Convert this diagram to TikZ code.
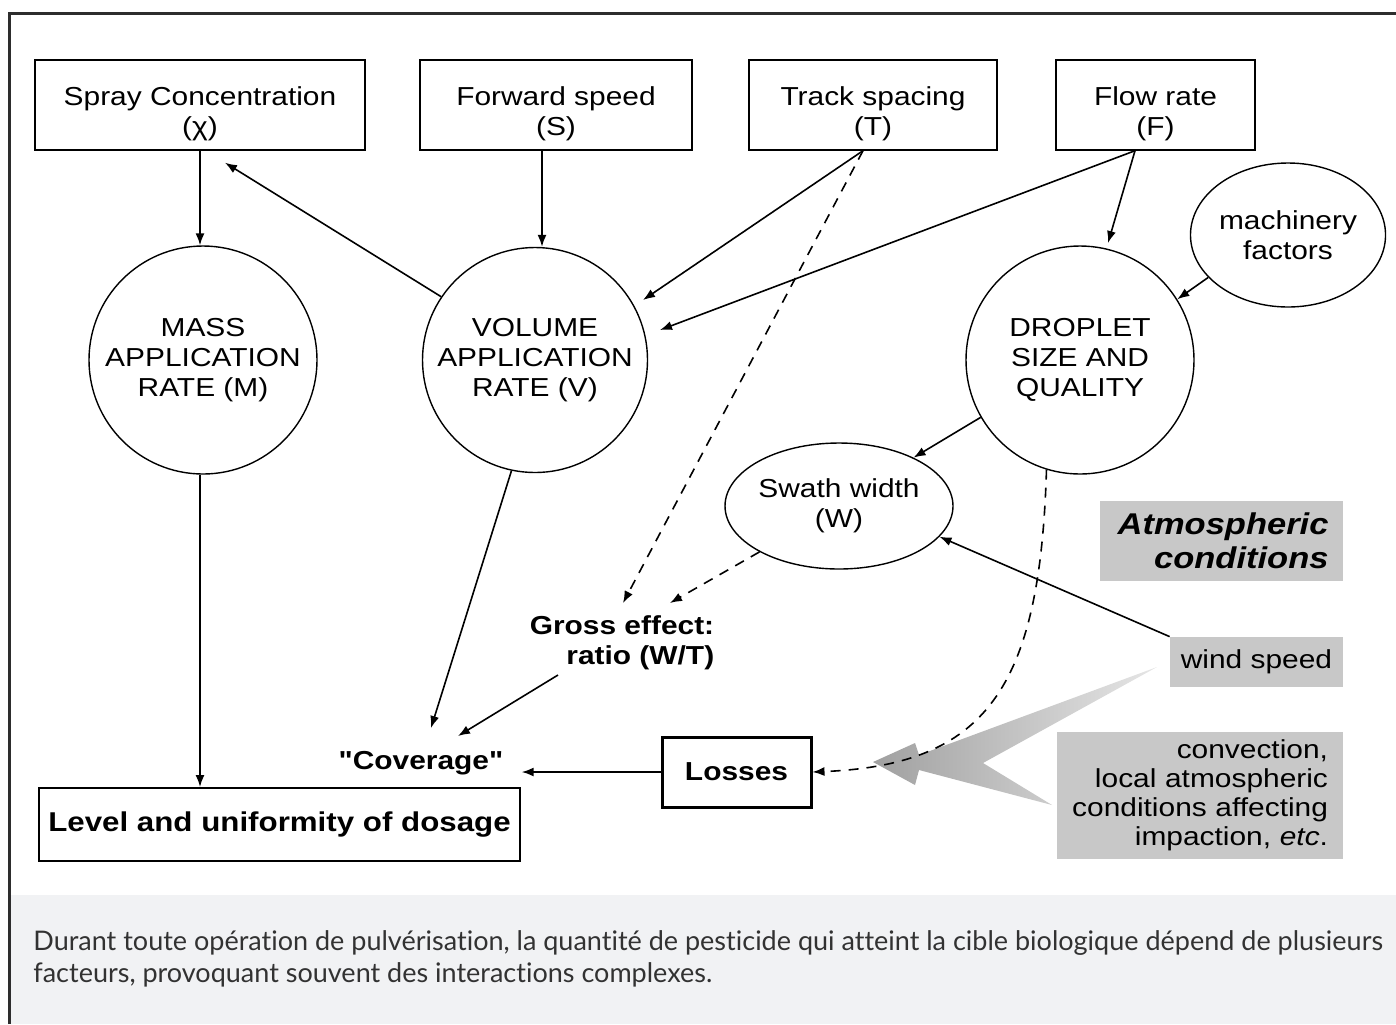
\documentclass[tikz,border=0pt]{standalone}
\usepackage{fontspec}
\newfontfamily\dfont{Liberation Sans}[FakeStretch=1.15]
\newfontfamily\cfont{Lato}[Ligatures={NoCommon}]
\usetikzlibrary{shapes.geometric,arrows.meta,calc}
\definecolor{boxgray}{RGB}{200,200,200}
\definecolor{capgray}{RGB}{241,242,244}
\definecolor{frameline}{RGB}{45,45,45}
\definecolor{captext}{RGB}{50,50,50}
\definecolor{chevdark}{RGB}{160,160,160}
\definecolor{chevlight}{RGB}{230,230,230}
\begin{document}
\begin{tikzpicture}[x=0.5pt,y=-0.5pt,
  base/.style={font=\dfont\fontsize{13pt}{15pt}\selectfont, text=black, align=center},
  bold/.style={font=\dfont\bfseries\fontsize{13pt}{15pt}\selectfont, text=black, align=center},
  rbox/.style={base, draw, line width=0.7pt, inner sep=0pt},
  circ/.style={base, draw, circle, line width=0.7pt, inner sep=0pt},
  ell/.style={base, draw, ellipse, line width=0.7pt, inner sep=0pt},
  gbox/.style={base, fill=boxgray, inner sep=0pt},
  boxtext/.style={base, inner sep=0pt},
  arr/.style={-{Latex[length=6pt,width=4.5pt]}, line width=0.8pt},
  darr/.style={arr, dash pattern=on 5pt off 4pt}]
\useasboundingbox (0,0) rectangle (1396,1024);
% caption band and frame
\fill[capgray] (9,895) rectangle (1396,1024);
\draw[frameline, line width=1.5pt] (9,1024) -- (9,13) -- (1396,13);
\node[anchor=north west, inner sep=0pt, align=left, text=captext,
      font=\cfont\fontsize{13.5pt}{16pt}\selectfont] (Cap) at (33,930)
 {Durant toute opération de pulvérisation, la quantité de pesticide qui atteint la cible biologique dépend de plusieurs\\
  facteurs, provoquant souvent des interactions complexes.};

% top boxes
\node[rbox, minimum width=165pt, minimum height=45pt] (Spray) at (200,105) {};
\node[rbox, minimum width=136pt, minimum height=45pt] (Forward) at (556,105) {};
\node[rbox, minimum width=124pt, minimum height=45pt] (Track) at (873,105) {};
\node[rbox, minimum width=99.5pt, minimum height=45pt] (Flow) at (1155.5,105) {};
\node[boxtext] (SprayT) at ([yshift=-4.5pt]Spray.center) {Spray Concentration\\(χ)};
\node[boxtext] (ForwardT) at ([yshift=-4.5pt]Forward.center) {Forward speed\\(S)};
\node[boxtext] (TrackT) at ([yshift=-4.5pt]Track.center) {Track spacing\\(T)};
\node[boxtext] (FlowT) at ([yshift=-4.5pt]Flow.center) {Flow rate\\(F)};
% circles
\node[circ, minimum size=114pt] (MASS) at (203,360) {MASS\\APPLICATION\\RATE (M)};
\node[circ, minimum size=112.5pt] (VOLUME) at (535,360) {VOLUME\\APPLICATION\\RATE (V)};
\node[circ, minimum size=114pt] (DROPLET) at (1080,360) {DROPLET\\SIZE AND\\QUALITY};
\node[ell, minimum width=92.5pt, minimum height=72pt] (mach) at (1288,235) {machinery\\factors};
\node[ell, minimum width=97pt, minimum height=63pt] (Swath) at (839,506) {Swath width\\(W)};
% lower nodes
\node[bold, align=right, inner sep=0pt] (Gross) at (622,643) {Gross effect:\\ratio (W/T)};
\node[bold, inner sep=0pt] (Coverage) at (421,763) {"Coverage"};
\node[rbox, font=\dfont\bfseries\fontsize{13.6pt}{15pt}\selectfont, line width=1pt,
      minimum width=240.5pt, minimum height=36.5pt] (Level) at (279.5,824.5) {Level and uniformity of dosage};
\node[rbox, bold, line width=1.5pt, minimum width=74.5pt, minimum height=35pt] (Losses) at (736.5,772) {Losses};
% gray boxes
\node[gbox, font=\dfont\bfseries\itshape\fontsize{15pt}{17pt}\selectfont, align=right,
      text width=107pt, inner xsep=7.25pt, minimum height=40pt] (Atmos) at (1221.5,541) {Atmospheric\\conditions};
\node[gbox, minimum width=86.5pt, minimum height=25pt] (Wind) at (1256.5,662) {wind speed};
\node[gbox, font=\dfont\fontsize{13pt}{14.5pt}\selectfont, align=right,
      text width=128pt, inner xsep=7.5pt, minimum height=63.5pt] (Conv) at (1200,795.5)
      {convection,\\local atmospheric\\conditions affecting\\impaction, \textit{etc}.};

% big shaded chevron
\shade[left color=chevdark, right color=chevlight]
  (873,762) -- (915,743) -- (919,755) -- (1157,667) -- (983,763) -- (1052,805) -- (919,770) -- (915,785) -- cycle;

% connectors
\draw[arr] ([xshift=-1.5pt]MASS.north |- Spray.south) -- ([xshift=-1.5pt]MASS.north);
\draw[arr] ([xshift=-7pt]Forward.south) -- ([xshift=-7pt]Forward.south |- VOLUME.north);
\draw[arr] (VOLUME.146) -- ([shift={(12.5pt,-6pt)}]Spray.south);
\coordinate (vt1) at ($(VOLUME)+(108,-60)$);
\coordinate (vt2) at ($(VOLUME)+(125,-30)$);
\coordinate (dt1) at ($(DROPLET)+(28,-117)$);
\draw[arr] ([xshift=-5pt]Track.south) -- (vt1);
\draw[arr] ([xshift=-10.25pt]Flow.south) -- (vt2);
\draw[arr] ([xshift=-10.25pt]Flow.south) -- (dt1);
\draw[arr] (mach.208) -- (DROPLET.32);
\draw[arr] (DROPLET.210) -- (Swath.33);
\draw[arr] ([xshift=-1.5pt]MASS.south) -- ([xshift=-1.5pt]MASS.south |- Level.north);
\coordinate (cv1) at ($(Coverage)+(10,-35)$);
\coordinate (cv2) at ($(Coverage)+(37,-27)$);
\draw[arr] (VOLUME.258) -- (cv1);
\draw[arr] ($(Gross)+(-64,32)$) -- (cv2);
\draw[arr] (Losses.west) -- ($(Losses.west -| Coverage.east)+(18,0)$);
\coordinate (g1) at ($(Gross)+(1,-40)$);
\coordinate (g2) at ($(Gross)+(48,-40)$);
\draw[darr] ([xshift=-5pt]Track.south) -- (g1);
\draw[darr] (Swath.210) -- (g2);
\draw[arr] (Wind.north west) -- (Swath.-17);
\draw[darr] (DROPLET.253) .. controls (1040,690) and (985,765) .. (Losses.east);
\end{tikzpicture}
\end{document}
